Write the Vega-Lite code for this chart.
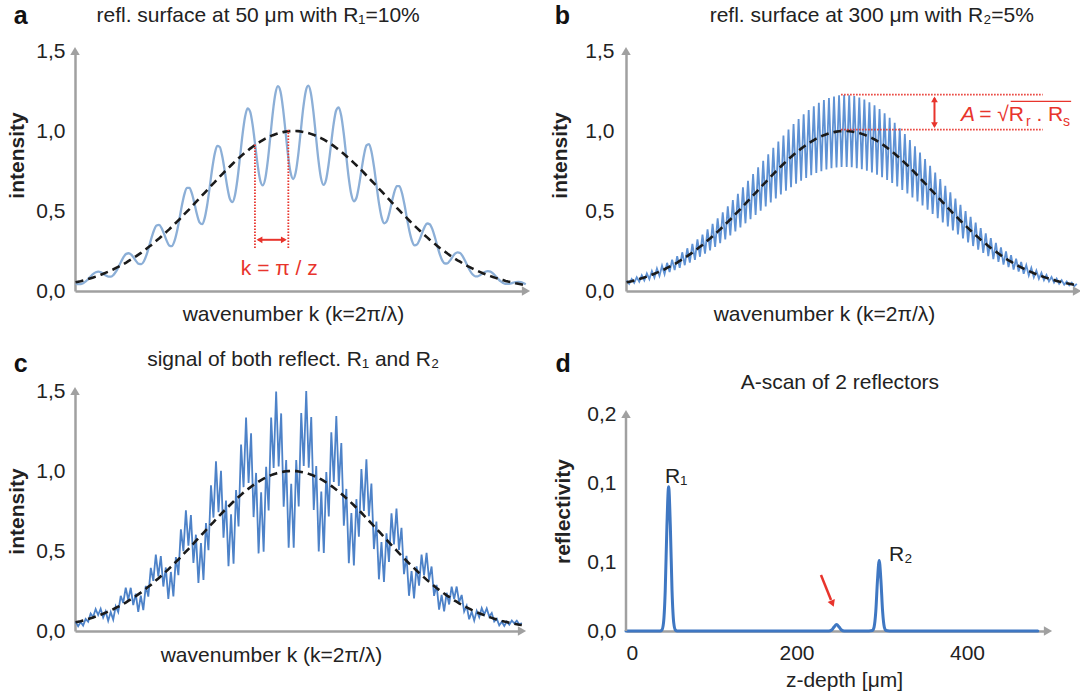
{
"$schema": "https://vega.github.io/schema/vega-lite/v6.json",
"padding": {"left": 6, "top": 4, "right": 2, "bottom": 2},
"background": "white",
"columns": 2,
"spacing": 100,
"bounds": "flush",
"datasets": {
"sig": [
{"x":0.13,"g":0.054,"a":0.046,"b":0.066,"c":0.057},
{"x":0.70,"g":0.058,"a":0.043,"b":0.045,"c":0.030},
{"x":1.26,"g":0.061,"a":0.043,"b":0.075,"c":0.056},
{"x":1.82,"g":0.066,"a":0.049,"b":0.051,"c":0.034},
{"x":2.38,"g":0.070,"a":0.060,"b":0.086,"c":0.075},
{"x":2.94,"g":0.075,"a":0.075,"b":0.058,"c":0.058},
{"x":3.50,"g":0.080,"a":0.092,"b":0.098,"c":0.109},
{"x":4.06,"g":0.085,"a":0.107,"b":0.066,"c":0.088},
{"x":4.62,"g":0.090,"a":0.117,"b":0.110,"c":0.137},
{"x":5.18,"g":0.096,"a":0.121,"b":0.074,"c":0.100},
{"x":5.74,"g":0.102,"a":0.117,"b":0.125,"c":0.139},
{"x":6.30,"g":0.108,"a":0.108,"b":0.084,"c":0.084},
{"x":6.86,"g":0.115,"a":0.097,"b":0.140,"c":0.123},
{"x":7.42,"g":0.121,"a":0.090,"b":0.094,"c":0.063},
{"x":7.99,"g":0.129,"a":0.090,"b":0.158,"c":0.118},
{"x":8.55,"g":0.136,"a":0.101,"b":0.105,"c":0.071},
{"x":9.11,"g":0.144,"a":0.122,"b":0.176,"c":0.154},
{"x":9.67,"g":0.152,"a":0.152,"b":0.118,"c":0.118},
{"x":10.23,"g":0.160,"a":0.184,"b":0.196,"c":0.220},
{"x":10.79,"g":0.169,"a":0.213,"b":0.131,"c":0.176},
{"x":11.35,"g":0.178,"a":0.232,"b":0.218,"c":0.271},
{"x":11.91,"g":0.188,"a":0.236,"b":0.145,"c":0.195},
{"x":12.47,"g":0.197,"a":0.227,"b":0.242,"c":0.270},
{"x":13.03,"g":0.208,"a":0.208,"b":0.161,"c":0.162},
{"x":13.59,"g":0.218,"a":0.185,"b":0.267,"c":0.233},
{"x":14.15,"g":0.229,"a":0.169,"b":0.177,"c":0.119},
{"x":14.72,"g":0.240,"a":0.168,"b":0.294,"c":0.221},
{"x":15.28,"g":0.252,"a":0.186,"b":0.195,"c":0.131},
{"x":15.84,"g":0.264,"a":0.224,"b":0.323,"c":0.282},
{"x":16.40,"g":0.276,"a":0.276,"b":0.214,"c":0.215},
{"x":16.96,"g":0.288,"a":0.332,"b":0.353,"c":0.395},
{"x":17.52,"g":0.301,"a":0.380,"b":0.234,"c":0.313},
{"x":18.08,"g":0.315,"a":0.409,"b":0.385,"c":0.478},
{"x":18.64,"g":0.328,"a":0.413,"b":0.254,"c":0.341},
{"x":19.20,"g":0.342,"a":0.393,"b":0.419,"c":0.468},
{"x":19.76,"g":0.356,"a":0.356,"b":0.276,"c":0.278},
{"x":20.32,"g":0.371,"a":0.315,"b":0.454,"c":0.397},
{"x":20.88,"g":0.385,"a":0.285,"b":0.299,"c":0.200},
{"x":21.45,"g":0.401,"a":0.280,"b":0.491,"c":0.369},
{"x":22.01,"g":0.416,"a":0.308,"b":0.322,"c":0.216},
{"x":22.57,"g":0.432,"a":0.367,"b":0.529,"c":0.462},
{"x":23.13,"g":0.447,"a":0.447,"b":0.347,"c":0.349},
{"x":23.69,"g":0.463,"a":0.533,"b":0.568,"c":0.635},
{"x":24.25,"g":0.480,"a":0.604,"b":0.372,"c":0.499},
{"x":24.81,"g":0.496,"a":0.645,"b":0.607,"c":0.754},
{"x":25.37,"g":0.512,"a":0.645,"b":0.397,"c":0.533},
{"x":25.93,"g":0.529,"a":0.608,"b":0.648,"c":0.725},
{"x":26.49,"g":0.546,"a":0.546,"b":0.423,"c":0.426},
{"x":27.05,"g":0.563,"a":0.478,"b":0.689,"c":0.602},
{"x":27.61,"g":0.580,"a":0.429,"b":0.449,"c":0.301},
{"x":28.18,"g":0.597,"a":0.418,"b":0.731,"c":0.549},
{"x":28.74,"g":0.614,"a":0.454,"b":0.476,"c":0.319},
{"x":29.30,"g":0.631,"a":0.536,"b":0.773,"c":0.675},
{"x":29.86,"g":0.648,"a":0.648,"b":0.502,"c":0.505},
{"x":30.42,"g":0.665,"a":0.764,"b":0.814,"c":0.911},
{"x":30.98,"g":0.681,"a":0.858,"b":0.528,"c":0.709},
{"x":31.54,"g":0.698,"a":0.907,"b":0.855,"c":1.061},
{"x":32.10,"g":0.715,"a":0.900,"b":0.554,"c":0.743},
{"x":32.66,"g":0.731,"a":0.840,"b":0.895,"c":1.001},
{"x":33.22,"g":0.747,"a":0.747,"b":0.579,"c":0.583},
{"x":33.78,"g":0.763,"a":0.648,"b":0.934,"c":0.816},
{"x":34.34,"g":0.778,"a":0.576,"b":0.603,"c":0.405},
{"x":34.91,"g":0.794,"a":0.556,"b":0.972,"c":0.730},
{"x":35.47,"g":0.809,"a":0.599,"b":0.627,"c":0.421},
{"x":36.03,"g":0.823,"a":0.700,"b":1.009,"c":0.881},
{"x":36.59,"g":0.838,"a":0.838,"b":0.649,"c":0.653},
{"x":37.15,"g":0.851,"a":0.979,"b":1.043,"c":1.166},
{"x":37.71,"g":0.865,"a":1.089,"b":0.670,"c":0.899},
{"x":38.27,"g":0.877,"a":1.141,"b":1.075,"c":1.334},
{"x":38.83,"g":0.890,"a":1.121,"b":0.690,"c":0.925},
{"x":39.39,"g":0.902,"a":1.037,"b":1.104,"c":1.235},
{"x":39.95,"g":0.913,"a":0.913,"b":0.707,"c":0.712},
{"x":40.51,"g":0.923,"a":0.785,"b":1.131,"c":0.988},
{"x":41.07,"g":0.933,"a":0.691,"b":0.723,"c":0.485},
{"x":41.64,"g":0.943,"a":0.660,"b":1.155,"c":0.867},
{"x":42.20,"g":0.952,"a":0.704,"b":0.737,"c":0.495},
{"x":42.76,"g":0.960,"a":0.816,"b":1.176,"c":1.027},
{"x":43.32,"g":0.967,"a":0.967,"b":0.749,"c":0.754},
{"x":43.88,"g":0.974,"a":1.120,"b":1.193,"c":1.334},
{"x":44.44,"g":0.980,"a":1.234,"b":0.759,"c":1.019},
{"x":45.00,"g":0.985,"a":1.280,"b":1.206,"c":1.497},
{"x":45.56,"g":0.989,"a":1.247,"b":0.767,"c":1.029},
{"x":46.12,"g":0.993,"a":1.142,"b":1.216,"c":1.360},
{"x":46.68,"g":0.996,"a":0.996,"b":0.772,"c":0.777},
{"x":47.24,"g":0.998,"a":0.848,"b":1.223,"c":1.068},
{"x":47.80,"g":0.999,"a":0.740,"b":0.775,"c":0.520},
{"x":48.37,"g":1.000,"a":0.700,"b":1.225,"c":0.920},
{"x":48.93,"g":1.000,"a":0.740,"b":0.775,"c":0.520},
{"x":49.49,"g":0.999,"a":0.849,"b":1.224,"c":1.069},
{"x":50.05,"g":0.997,"a":0.997,"b":0.773,"c":0.778},
{"x":50.61,"g":0.994,"a":1.144,"b":1.218,"c":1.362},
{"x":51.17,"g":0.991,"a":1.249,"b":0.768,"c":1.031},
{"x":51.73,"g":0.987,"a":1.283,"b":1.209,"c":1.500},
{"x":52.29,"g":0.982,"a":1.238,"b":0.761,"c":1.021},
{"x":52.85,"g":0.977,"a":1.123,"b":1.196,"c":1.338},
{"x":53.41,"g":0.970,"a":0.970,"b":0.752,"c":0.757},
{"x":53.97,"g":0.963,"a":0.819,"b":1.180,"c":1.031},
{"x":54.53,"g":0.956,"a":0.707,"b":0.741,"c":0.497},
{"x":55.10,"g":0.947,"a":0.663,"b":1.160,"c":0.871},
{"x":55.66,"g":0.938,"a":0.694,"b":0.727,"c":0.488},
{"x":56.22,"g":0.928,"a":0.789,"b":1.137,"c":0.993},
{"x":56.78,"g":0.918,"a":0.918,"b":0.711,"c":0.716},
{"x":57.34,"g":0.907,"a":1.043,"b":1.111,"c":1.242},
{"x":57.90,"g":0.895,"a":1.128,"b":0.694,"c":0.931},
{"x":58.46,"g":0.883,"a":1.148,"b":1.082,"c":1.343},
{"x":59.02,"g":0.871,"a":1.097,"b":0.675,"c":0.906},
{"x":59.58,"g":0.858,"a":0.986,"b":1.051,"c":1.175},
{"x":60.14,"g":0.844,"a":0.844,"b":0.654,"c":0.658},
{"x":60.70,"g":0.830,"a":0.706,"b":1.017,"c":0.888},
{"x":61.26,"g":0.816,"a":0.604,"b":0.632,"c":0.424},
{"x":61.83,"g":0.801,"a":0.561,"b":0.981,"c":0.737},
{"x":62.39,"g":0.786,"a":0.581,"b":0.609,"c":0.409},
{"x":62.95,"g":0.770,"a":0.655,"b":0.944,"c":0.824},
{"x":63.51,"g":0.755,"a":0.755,"b":0.585,"c":0.589},
{"x":64.07,"g":0.739,"a":0.849,"b":0.905,"c":1.012},
{"x":64.63,"g":0.722,"a":0.910,"b":0.560,"c":0.751},
{"x":65.19,"g":0.706,"a":0.918,"b":0.865,"c":1.073},
{"x":65.75,"g":0.689,"a":0.869,"b":0.534,"c":0.717},
{"x":66.31,"g":0.673,"a":0.774,"b":0.824,"c":0.922},
{"x":66.87,"g":0.656,"a":0.656,"b":0.508,"c":0.512},
{"x":67.43,"g":0.639,"a":0.543,"b":0.783,"c":0.684},
{"x":67.99,"g":0.622,"a":0.460,"b":0.482,"c":0.323},
{"x":68.56,"g":0.605,"a":0.423,"b":0.741,"c":0.556},
{"x":69.12,"g":0.588,"a":0.435,"b":0.455,"c":0.306},
{"x":69.68,"g":0.571,"a":0.485,"b":0.699,"c":0.611},
{"x":70.24,"g":0.554,"a":0.554,"b":0.429,"c":0.432},
{"x":70.80,"g":0.537,"a":0.618,"b":0.658,"c":0.736},
{"x":71.36,"g":0.520,"a":0.656,"b":0.403,"c":0.541},
{"x":71.92,"g":0.504,"a":0.655,"b":0.617,"c":0.766},
{"x":72.48,"g":0.487,"a":0.614,"b":0.378,"c":0.507},
{"x":73.04,"g":0.471,"a":0.542,"b":0.577,"c":0.645},
{"x":73.60,"g":0.455,"a":0.455,"b":0.353,"c":0.355},
{"x":74.16,"g":0.439,"a":0.373,"b":0.538,"c":0.470},
{"x":74.72,"g":0.423,"a":0.313,"b":0.328,"c":0.220},
{"x":75.29,"g":0.408,"a":0.285,"b":0.499,"c":0.375},
{"x":75.85,"g":0.393,"a":0.291,"b":0.304,"c":0.204},
{"x":76.41,"g":0.378,"a":0.321,"b":0.463,"c":0.404},
{"x":76.97,"g":0.363,"a":0.363,"b":0.281,"c":0.283},
{"x":77.53,"g":0.349,"a":0.401,"b":0.427,"c":0.478},
{"x":78.09,"g":0.335,"a":0.422,"b":0.259,"c":0.348},
{"x":78.65,"g":0.321,"a":0.417,"b":0.393,"c":0.488},
{"x":79.21,"g":0.308,"a":0.388,"b":0.238,"c":0.320},
{"x":79.77,"g":0.295,"a":0.339,"b":0.361,"c":0.403},
{"x":80.33,"g":0.282,"a":0.282,"b":0.218,"c":0.220},
{"x":80.89,"g":0.269,"a":0.229,"b":0.330,"c":0.288},
{"x":81.45,"g":0.257,"a":0.190,"b":0.199,"c":0.134},
{"x":82.02,"g":0.246,"a":0.172,"b":0.301,"c":0.226},
{"x":82.58,"g":0.234,"a":0.173,"b":0.182,"c":0.122},
{"x":83.14,"g":0.223,"a":0.190,"b":0.273,"c":0.239},
{"x":83.70,"g":0.213,"a":0.213,"b":0.165,"c":0.166},
{"x":84.26,"g":0.202,"a":0.233,"b":0.248,"c":0.277},
{"x":84.82,"g":0.192,"a":0.242,"b":0.149,"c":0.200},
{"x":85.38,"g":0.183,"a":0.238,"b":0.224,"c":0.278},
{"x":85.94,"g":0.173,"a":0.218,"b":0.134,"c":0.180},
{"x":86.50,"g":0.165,"a":0.189,"b":0.202,"c":0.225},
{"x":87.06,"g":0.156,"a":0.156,"b":0.121,"c":0.122},
{"x":87.62,"g":0.148,"a":0.125,"b":0.181,"c":0.158},
{"x":88.18,"g":0.140,"a":0.103,"b":0.108,"c":0.073},
{"x":88.75,"g":0.132,"a":0.092,"b":0.162,"c":0.121},
{"x":89.31,"g":0.125,"a":0.092,"b":0.097,"c":0.065},
{"x":89.87,"g":0.118,"a":0.100,"b":0.144,"c":0.126},
{"x":90.43,"g":0.111,"a":0.111,"b":0.086,"c":0.087},
{"x":90.99,"g":0.105,"a":0.120,"b":0.128,"c":0.143},
{"x":91.55,"g":0.099,"a":0.124,"b":0.076,"c":0.103},
{"x":92.11,"g":0.093,"a":0.121,"b":0.114,"c":0.141},
{"x":92.67,"g":0.087,"a":0.110,"b":0.068,"c":0.091},
{"x":93.23,"g":0.082,"a":0.094,"b":0.100,"c":0.112},
{"x":93.79,"g":0.077,"a":0.077,"b":0.060,"c":0.060},
{"x":94.35,"g":0.072,"a":0.061,"b":0.088,"c":0.077},
{"x":94.91,"g":0.068,"a":0.050,"b":0.052,"c":0.035},
{"x":95.48,"g":0.063,"a":0.044,"b":0.078,"c":0.058},
{"x":96.04,"g":0.059,"a":0.044,"b":0.046,"c":0.031},
{"x":96.60,"g":0.056,"a":0.047,"b":0.068,"c":0.059},
{"x":97.16,"g":0.052,"a":0.052,"b":0.040,"c":0.040},
{"x":97.72,"g":0.048,"a":0.056,"b":0.059,"c":0.066},
{"x":98.28,"g":0.045,"a":0.057,"b":0.035,"c":0.047},
{"x":98.84,"g":0.042,"a":0.055,"b":0.052,"c":0.064},
{"x":99.40,"g":0.039,"a":0.049,"b":0.030,"c":0.041},
{"x":99.96,"g":0.037,"a":0.042,"b":0.045,"c":0.050}
],
"ascan": [
{"z":0,"r":0},{"z":40,"r":0},{"z":42,"r":0.0008},{"z":44,"r":0.0075},{"z":46,"r":0.037},{"z":48,"r":0.097},{"z":50,"r":0.133},{"z":52,"r":0.097},{"z":54,"r":0.037},{"z":56,"r":0.0075},{"z":58,"r":0.0008},{"z":60,"r":0},
{"z":234,"r":0},{"z":238,"r":0.0001},{"z":241,"r":0.0008},{"z":244,"r":0.0036},{"z":247,"r":0.006},{"z":250,"r":0.0036},{"z":253,"r":0.0008},{"z":256,"r":0.0001},{"z":260,"r":0},
{"z":285,"r":0},{"z":289,"r":0.0004},{"z":291,"r":0.0036},{"z":293,"r":0.018},{"z":295,"r":0.047},{"z":297,"r":0.065},{"z":299,"r":0.047},{"z":301,"r":0.018},{"z":303,"r":0.0036},{"z":305,"r":0.0004},{"z":309,"r":0},{"z":483,"r":0}
]
},
"concat": [
{
"width": 451, "height": 240,
"layer": [
{"data":{"name":"sig"},"mark":{"type":"line","color":"#8cafd7","strokeWidth":2.3,"interpolate":"monotone"},
"encoding":{
"x":{"field":"x","type":"quantitative","scale":{"domain":[0,100],"nice":false},"axis":{"labels":false,"title":"wavenumber k (k=2π/λ)","titleFontWeight":"normal","titlePadding":12,"titleX":218}},
"y":{"field":"a","type":"quantitative","scale":{"domain":[0,1.5],"nice":false},"axis":{"values":[0,0.5,1,1.5],"labelExpr":"replace(format(datum.value, '.1f'), '.', ',')","labelPadding":10,"title":"intensity","titleFontWeight":"bold","titlePadding":8,"titleY":104}}}},
{"data":{"name":"sig"},"mark":{"type":"line","color":"#1a1a1a","strokeWidth":2.6,"strokeDash":[8,5]},"encoding":{"x":{"field":"x","type":"quantitative"},"y":{"field":"g","type":"quantitative"}}},
{"data":{"values":[{}]},"mark":{"type":"point","shape":"triangle-right","filled":true,"color":"#a0a0a0","size":90,"opacity":1},"encoding":{"x":{"datum":100},"y":{"datum":0}}},
{"data":{"values":[{}]},"mark":{"type":"point","shape":"triangle-up","filled":true,"color":"#a0a0a0","size":90,"opacity":1},"encoding":{"x":{"datum":0},"y":{"datum":1.5}}},
{"data":{"values":[{"x":39.9,"y":0.269,"y2":0.925},{"x":47.3,"y":0.269,"y2":1.008}]},"mark":{"type":"rule","color":"#e8342c","strokeWidth":1.8,"strokeDash":[1.5,1.5]},"encoding":{"x":{"field":"x","type":"quantitative"},"y":{"field":"y","type":"quantitative"},"y2":{"field":"y2"}}},
{"data":{"values":[{"x":40.6,"x2":46.6,"y":0.32}]},"mark":{"type":"rule","color":"#e8342c","strokeWidth":2},"encoding":{"x":{"field":"x","type":"quantitative"},"x2":{"field":"x2"},"y":{"field":"y","type":"quantitative"}}},
{"data":{"values":[{}]},"mark":{"type":"point","shape":"triangle-left","filled":true,"color":"#e8342c","size":45,"opacity":1},"encoding":{"x":{"datum":40.9},"y":{"datum":0.32}}},
{"data":{"values":[{}]},"mark":{"type":"point","shape":"triangle-right","filled":true,"color":"#e8342c","size":45,"opacity":1},"encoding":{"x":{"datum":46.3},"y":{"datum":0.32}}},
{"data":{"values":[{"t":"k = π / z"}]},"mark":{"type":"text","color":"#e8342c","fontSize":21,"align":"center","baseline":"alphabetic"},"encoding":{"x":{"datum":45.3},"y":{"datum":0.102},"text":{"field":"t"}}},
{"data":{"values":[{"t":"a"}]},"mark":{"type":"text","fontSize":25,"fontWeight":"bold","align":"left","baseline":"alphabetic","color":"#111111"},"encoding":{"x":{"datum":-13.6},"y":{"datum":1.666},"text":{"field":"t"}}},
{"data":{"values":[{"t":"refl. surface at 50 μm with R₁=10%"}]},"mark":{"type":"text","fontSize":21,"align":"center","baseline":"alphabetic","color":"#222222"},"encoding":{"x":{"datum":40.6},"y":{"datum":1.681},"text":{"field":"t"}}}
]
},
{
"width": 451, "height": 240,
"layer": [
{"data":{"name":"sig"},"mark":{"type":"line","color":"#5f92d4","strokeWidth":1.8,"interpolate":"linear"},
"encoding":{
"x":{"field":"x","type":"quantitative","scale":{"domain":[0,100],"nice":false},"axis":{"labels":false,"title":"wavenumber k (k=2π/λ)","titleFontWeight":"normal","titlePadding":12,"titleX":198}},
"y":{"field":"b","type":"quantitative","scale":{"domain":[0,1.5],"nice":false},"axis":{"values":[0,0.5,1,1.5],"labelExpr":"replace(format(datum.value, '.1f'), '.', ',')","labelPadding":12,"title":"intensity","titleFontWeight":"bold","titlePadding":14,"titleY":104}}}},
{"data":{"name":"sig"},"mark":{"type":"line","color":"#1a1a1a","strokeWidth":2.6,"strokeDash":[8,5]},"encoding":{"x":{"field":"x","type":"quantitative"},"y":{"field":"g","type":"quantitative"}}},
{"data":{"values":[{}]},"mark":{"type":"point","shape":"triangle-right","filled":true,"color":"#a0a0a0","size":90,"opacity":1},"encoding":{"x":{"datum":100},"y":{"datum":0}}},
{"data":{"values":[{}]},"mark":{"type":"point","shape":"triangle-up","filled":true,"color":"#a0a0a0","size":90,"opacity":1},"encoding":{"x":{"datum":0},"y":{"datum":1.5}}},
{"data":{"values":[{"x":47.7,"x2":92.4,"y":1.227},{"x":47.7,"x2":92.4,"y":1.008}]},"mark":{"type":"rule","color":"#e8342c","strokeWidth":1.8,"strokeDash":[1.5,1.5]},"encoding":{"x":{"field":"x","type":"quantitative"},"x2":{"field":"x2"},"y":{"field":"y","type":"quantitative"}}},
{"data":{"values":[{"x":68.4,"y":1.03,"y2":1.205}]},"mark":{"type":"rule","color":"#e8342c","strokeWidth":2},"encoding":{"x":{"field":"x","type":"quantitative"},"y":{"field":"y","type":"quantitative"},"y2":{"field":"y2"}}},
{"data":{"values":[{}]},"mark":{"type":"point","shape":"triangle-up","filled":true,"color":"#e8342c","size":45,"opacity":1},"encoding":{"x":{"datum":68.4},"y":{"datum":1.198}}},
{"data":{"values":[{}]},"mark":{"type":"point","shape":"triangle-down","filled":true,"color":"#e8342c","size":45,"opacity":1},"encoding":{"x":{"datum":68.4},"y":{"datum":1.037}}},
{"data":{"values":[{"t":"A"}]},"mark":{"type":"text","color":"#e8342c","fontSize":21,"fontStyle":"italic","align":"left","baseline":"alphabetic"},"encoding":{"x":{"datum":74.3},"y":{"datum":1.06},"text":{"field":"t"}}},
{"data":{"values":[{"t":"= √R"}]},"mark":{"type":"text","color":"#e8342c","fontSize":21,"align":"left","baseline":"alphabetic"},"encoding":{"x":{"datum":78.3},"y":{"datum":1.06},"text":{"field":"t"}}},
{"data":{"values":[{"t":"r"}]},"mark":{"type":"text","color":"#e8342c","fontSize":14,"align":"left","baseline":"alphabetic"},"encoding":{"x":{"datum":88.7},"y":{"datum":1.03},"text":{"field":"t"}}},
{"data":{"values":[{"t":". R"}]},"mark":{"type":"text","color":"#e8342c","fontSize":21,"align":"left","baseline":"alphabetic"},"encoding":{"x":{"datum":91.0},"y":{"datum":1.06},"text":{"field":"t"}}},
{"data":{"values":[{"t":"s"}]},"mark":{"type":"text","color":"#e8342c","fontSize":14,"align":"left","baseline":"alphabetic"},"encoding":{"x":{"datum":96.9},"y":{"datum":1.03},"text":{"field":"t"}}},
{"data":{"values":[{"x":85.3,"x2":98.7,"y":1.185}]},"mark":{"type":"rule","color":"#e8342c","strokeWidth":1.2},"encoding":{"x":{"field":"x","type":"quantitative"},"x2":{"field":"x2"},"y":{"field":"y","type":"quantitative"}}},
{"data":{"values":[{"t":"b"}]},"mark":{"type":"text","fontSize":25,"fontWeight":"bold","align":"left","baseline":"alphabetic","color":"#111111"},"encoding":{"x":{"datum":-15.8},"y":{"datum":1.666},"text":{"field":"t"}}},
{"data":{"values":[{"t":"refl. surface at 300 μm with R₂=5%"}]},"mark":{"type":"text","fontSize":21,"align":"center","baseline":"alphabetic","color":"#222222"},"encoding":{"x":{"datum":54.5},"y":{"datum":1.681},"text":{"field":"t"}}}
]
},
{
"width": 447, "height": 240,
"layer": [
{"data":{"name":"sig"},"mark":{"type":"line","color":"#4d82c8","strokeWidth":1.8,"interpolate":"linear"},
"encoding":{
"x":{"field":"x","type":"quantitative","scale":{"domain":[0,100],"nice":false},"axis":{"labels":false,"title":"wavenumber k (k=2π/λ)","titleFontWeight":"normal","titlePadding":13,"titleX":196}},
"y":{"field":"c","type":"quantitative","scale":{"domain":[0,1.5],"nice":false},"axis":{"values":[0,0.5,1,1.5],"labelExpr":"replace(format(datum.value, '.1f'), '.', ',')","labelPadding":10,"title":"intensity","titleFontWeight":"bold","titlePadding":8}}}},
{"data":{"name":"sig"},"mark":{"type":"line","color":"#1a1a1a","strokeWidth":2.6,"strokeDash":[8,5]},"encoding":{"x":{"field":"x","type":"quantitative"},"y":{"field":"g","type":"quantitative"}}},
{"data":{"values":[{}]},"mark":{"type":"point","shape":"triangle-right","filled":true,"color":"#a0a0a0","size":90,"opacity":1},"encoding":{"x":{"datum":100},"y":{"datum":0}}},
{"data":{"values":[{}]},"mark":{"type":"point","shape":"triangle-up","filled":true,"color":"#a0a0a0","size":90,"opacity":1},"encoding":{"x":{"datum":0},"y":{"datum":1.5}}},
{"data":{"values":[{"t":"c"}]},"mark":{"type":"text","fontSize":25,"fontWeight":"bold","align":"left","baseline":"alphabetic","color":"#111111"},"encoding":{"x":{"datum":-13.7},"y":{"datum":1.621},"text":{"field":"t"}}},
{"data":{"values":[{"t":"signal of both reflect. R₁ and R₂"}]},"mark":{"type":"text","fontSize":21,"align":"center","baseline":"alphabetic","color":"#222222"},"encoding":{"x":{"datum":48.8},"y":{"datum":1.654},"text":{"field":"t"}}}
]
},
{
"width": 422, "height": 240,
"layer": [
{"data":{"name":"ascan"},"mark":{"type":"line","color":"#3f77c2","strokeWidth":3,"interpolate":"monotone","strokeCap":"round"},
"encoding":{
"x":{"field":"z","type":"quantitative","scale":{"domain":[0,495],"nice":false},"axis":{"values":[0,200,400],"labelPadding":11,"title":"z-depth [μm]","titleFontWeight":"normal","titlePadding":6,"titleX":218}},
"y":{"field":"r","type":"quantitative","scale":{"domain":[0,0.2212],"nice":false},"axis":{"values":[0,0.063,0.1355,0.2],"labelExpr":"replace(format(datum.value, '.1f'), '.', ',')","domain":false,"labelPadding":10,"title":"reflectivity","titleFontWeight":"bold","titlePadding":13}}}},
{"data":{"values":[{}]},"mark":{"type":"rule","color":"#a0a0a0","strokeWidth":2.5},"encoding":{"x":{"datum":0},"y":{"datum":0},"y2":{"datum":0.2}}},
{"data":{"values":[{}]},"mark":{"type":"point","shape":"triangle-right","filled":true,"color":"#a0a0a0","size":90,"opacity":1},"encoding":{"x":{"datum":495},"y":{"datum":0}}},
{"data":{"values":[{}]},"mark":{"type":"point","shape":"triangle-up","filled":true,"color":"#a0a0a0","size":90,"opacity":1},"encoding":{"x":{"datum":0},"y":{"datum":0.2}}},
{"data":{"values":[{"t":"R₁"}]},"mark":{"type":"text","fontSize":21,"align":"left","baseline":"alphabetic","color":"#222222"},"encoding":{"x":{"datum":45.7},"y":{"datum":0.1364},"text":{"field":"t"}}},
{"data":{"values":[{"t":"R₂"}]},"mark":{"type":"text","fontSize":21,"align":"left","baseline":"alphabetic","color":"#222222"},"encoding":{"x":{"datum":308.5},"y":{"datum":0.0648},"text":{"field":"t"}}},
{"data":{"values":[{"x":228.7,"y":0.0516,"x2":240.5,"y2":0.0286}]},"mark":{"type":"rule","color":"#e8342c","strokeWidth":2.5},"encoding":{"x":{"field":"x","type":"quantitative"},"y":{"field":"y","type":"quantitative"},"x2":{"field":"x2"},"y2":{"field":"y2"}}},
{"data":{"values":[{}]},"mark":{"type":"point","shape":"triangle-up","angle":158,"filled":true,"color":"#e8342c","size":60,"opacity":1},"encoding":{"x":{"datum":242.2},"y":{"datum":0.0253}}},
{"data":{"values":[{"t":"d"}]},"mark":{"type":"text","fontSize":25,"fontWeight":"bold","align":"left","baseline":"alphabetic","color":"#111111"},"encoding":{"x":{"datum":-82.7},"y":{"datum":0.239},"text":{"field":"t"}}},
{"data":{"values":[{"t":"A-scan of 2 reflectors"}]},"mark":{"type":"text","fontSize":21,"align":"center","baseline":"alphabetic","color":"#222222"},"encoding":{"x":{"datum":250.9},"y":{"datum":0.223},"text":{"field":"t"}}}
]
}
],
"config": {
"view": {"stroke": null},
"font": "Liberation Sans",
"text": {"font": "Liberation Sans"},
"axis": {"labelFont": "Liberation Sans", "titleFont": "Liberation Sans", "labelFontSize": 21, "titleFontSize": 21, "labelColor": "#222222", "titleColor": "#222222", "domainColor": "#a0a0a0", "domainWidth": 2.5, "grid": false, "ticks": false}
}
}
